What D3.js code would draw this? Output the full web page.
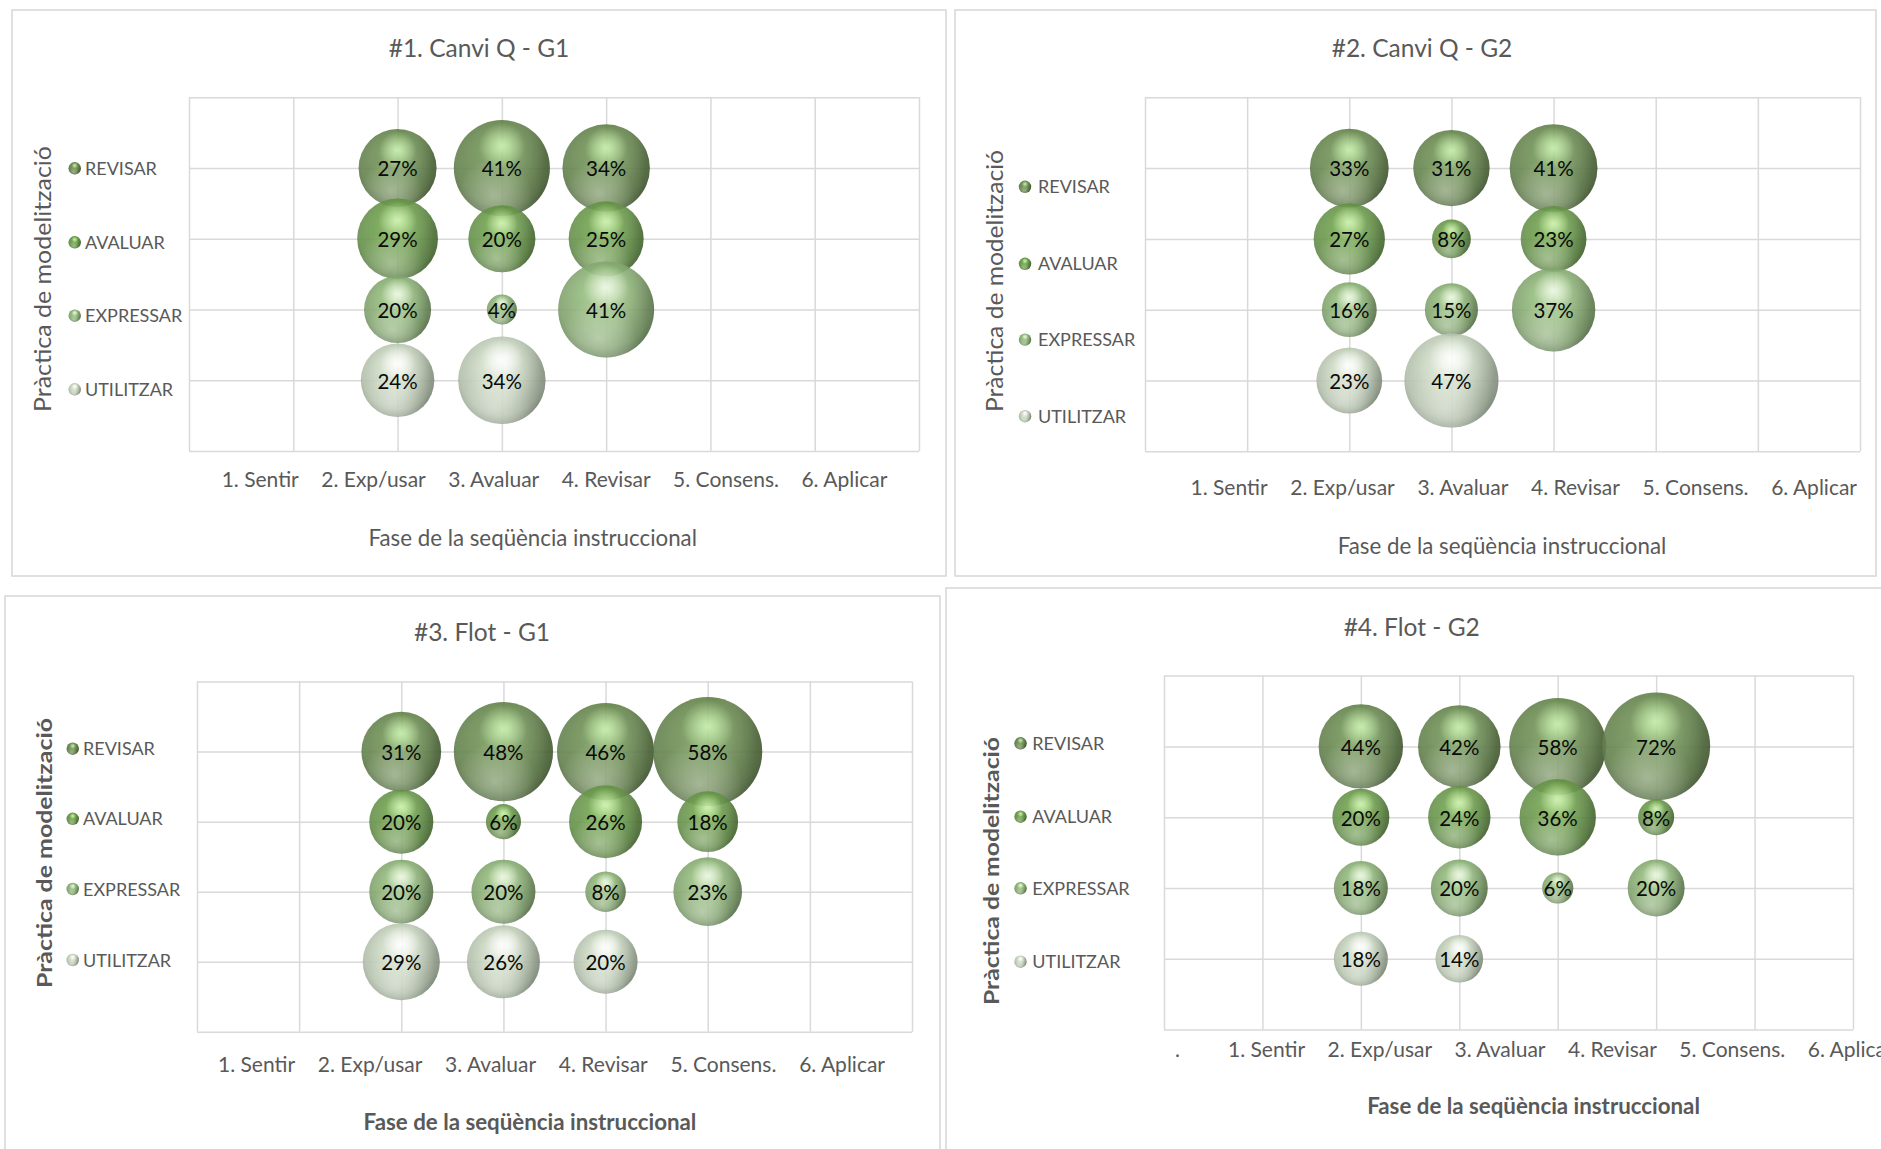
<!DOCTYPE html>
<html>
<head>
<meta charset="utf-8">
<script src="https://cdn.jsdelivr.net/npm/d3@7"></script>
<style>
  html, body { margin: 0; padding: 0; background: #ffffff; overflow: hidden; }
  svg { display: block; }
  text { font-family: Lato, "Open Sans", sans-serif; }
</style>
</head>
<body>
<svg id="chart" width="1881" height="1149"></svg>
<script>
// ---- data -------------------------------------------------------------
const phaseLabels = ["1. Sentir", "2. Exp/usar", "3. Avaluar", "4. Revisar", "5. Consens.", "6. Aplicar"];
const practices = ["REVISAR", "AVALUAR", "EXPRESSAR", "UTILITZAR"];
const practiceLevels = [4, 3, 2, 1];
const chartTitles = ["#1. Canvi Q - G1", "#2. Canvi Q - G2", "#3. Flot - G1", "#4. Flot - G2"];
const xAxisTitle = "Fase de la seqüència instruccional";
const yAxisTitle = "Pràctica de modelització";

// percentage of each practice (rows, in the order of `practices`)
// within each phase (columns, in the order of `phaseLabels`)
const canviQG1 = [
  [null, 27, 41, 34, null, null],
  [null, 29, 20, 25, null, null],
  [null, 20,  4, 41, null, null],
  [null, 24, 34, null, null, null]
];
const canviQG2 = [
  [null, 33, 31, 41, null, null],
  [null, 27,  8, 23, null, null],
  [null, 16, 15, 37, null, null],
  [null, 23, 47, null, null, null]
];
const flotG1 = [
  [null, 31, 48, 46, 58, null],
  [null, 20,  6, 26, 18, null],
  [null, 20, 20,  8, 23, null],
  [null, 29, 26, 20, null, null]
];
const flotG2 = [
  [null, 44, 42, 58, 72, null],
  [null, 20, 24, 36,  8, null],
  [null, 18, 20,  6, 20, null],
  [null, 18, 14, null, null, null]
];
const panelData = [canviQG1, canviQG2, flotG1, flotG2];

// ---- layout of the four chart boxes ----------------------------------
const layouts = [
  { frame: [12, 10, 934, 566], title: [479, 57], plot: { l: 189, r: 919, t: 97.3, b: 451 },
    legend: { mx: 74.7, tx: 85, ys: [168.3, 242.3, 315.7, 389.3] },
    yTitle: { x: 42, y: 279, len: 266, bold: false }, xLabels: { x0: 221.7, x1: 887.3, y: 486.7 },
    xTitle: { x: 532.7, y: 545.7, bold: false }, rMax: 48 },
  { frame: [955, 10, 921, 566], title: [1422, 57], plot: { l: 1145, r: 1860, t: 97.3, b: 451.3 },
    legend: { mx: 1025, tx: 1038, ys: [186.8, 263.8, 339.6, 416.2] },
    yTitle: { x: 994.5, y: 281, len: 262, bold: false }, xLabels: { x0: 1190.5, x1: 1857, y: 495 },
    xTitle: { x: 1502, y: 553.5, bold: false }, rMax: 47 },
  { frame: [5, 596, 935, 620], title: [482, 641], plot: { l: 197, r: 912, t: 681.6, b: 1031.7 },
    legend: { mx: 72.7, tx: 83, ys: [748.7, 818.8, 889, 960] },
    yTitle: { x: 43, y: 853, len: 270, bold: true }, xLabels: { x0: 218, x1: 885, y: 1072 },
    xTitle: { x: 530, y: 1130, bold: true }, rMax: 54.5 },
  { frame: [946, 588, 1000, 620], title: [1411.7, 635.5], plot: { l: 1164, r: 1853, t: 675.6, b: 1029.6 },
    legend: { mx: 1020.5, tx: 1032.3, ys: [743.3, 816.7, 888.3, 961.7] },
    yTitle: { x: 990, y: 871, len: 268, bold: true }, xLabels: { x0: 1228, x1: 1893.6, y: 1057, lead: { text: ".", x: 1175 } },
    xTitle: { x: 1533.6, y: 1114, bold: true }, rMax: 54 }
];

// sphere shading per practice
const shades = [
  { hi: "#c6eeab", light: "#8db572", base: "#6b8e50", dark: "#58773f", edge: "#465f36" },
  { hi: "#cff3b0", light: "#8abf63", base: "#6b9e48", dark: "#5a873d", edge: "#4b6f34" },
  { hi: "#eef9e4", light: "#b4d59f", base: "#90b979", dark: "#779b62", edge: "#627f54" },
  { hi: "#ffffff", light: "#eaf1e5", base: "#cddac4", dark: "#acbaa3", edge: "#8e9b88" }
];

const textGray = "#595959";
const gridGray = "#d9d9d9";

const svg = d3.select("#chart");
const defs = svg.append("defs");

// gradients that give every bubble its glossy sphere look
shades.forEach((s, i) => {
  const body = defs.append("radialGradient").attr("id", "body-" + i)
    .attr("cx", 0.5).attr("cy", 0.45).attr("r", 0.56).attr("fx", 0.5).attr("fy", 0.28);
  [[0, s.light], [0.45, s.base], [0.85, s.dark], [1, s.edge]].forEach(([o, c]) =>
    body.append("stop").attr("offset", o).attr("stop-color", c));
  const shine = defs.append("radialGradient").attr("id", "shine-" + i)
    .attr("cx", 0.5).attr("cy", 0.27).attr("r", 0.24);
  shine.append("stop").attr("offset", 0).attr("stop-color", s.hi).attr("stop-opacity", 0.95);
  shine.append("stop").attr("offset", 1).attr("stop-color", s.hi).attr("stop-opacity", 0);
});
const glow = defs.append("radialGradient").attr("id", "glow")
  .attr("cx", 0.42).attr("cy", 0.8).attr("r", 0.4);
glow.append("stop").attr("offset", 0).attr("stop-color", "#ffffff").attr("stop-opacity", 0.38);
glow.append("stop").attr("offset", 1).attr("stop-color", "#ffffff").attr("stop-opacity", 0);
const side = defs.append("linearGradient").attr("id", "side").attr("x1", 0).attr("x2", 1).attr("y1", 0).attr("y2", 0.15);
side.append("stop").attr("offset", 0).attr("stop-color", "#ffffff").attr("stop-opacity", 0.1);
side.append("stop").attr("offset", 0.55).attr("stop-color", "#ffffff").attr("stop-opacity", 0);
side.append("stop").attr("offset", 1).attr("stop-color", "#000000").attr("stop-opacity", 0.22);

function sphere(sel, i, r) {
  sel.append("circle").attr("r", r).attr("fill", `url(#body-${i})`);
  sel.append("circle").attr("r", r).attr("fill", "url(#glow)");
  sel.append("circle").attr("r", r).attr("fill", "url(#side)");
  sel.append("circle").attr("r", r).attr("fill", `url(#shine-${i})`);
}

panelData.forEach((rows, k) => {
  const L = layouts[k];
  const g = svg.append("g").attr("class", "panel-" + (k + 1));

  g.append("rect")
    .attr("x", L.frame[0]).attr("y", L.frame[1]).attr("width", L.frame[2]).attr("height", L.frame[3])
    .attr("fill", "#ffffff").attr("stroke", gridGray).attr("stroke-width", 1.6);

  g.append("text").attr("x", L.title[0]).attr("y", L.title[1]).attr("text-anchor", "middle")
    .attr("font-size", 24.5).attr("fill", textGray).text(chartTitles[k]);

  const x = d3.scaleLinear().domain([0, 7]).range([L.plot.l, L.plot.r]);
  const y = d3.scaleLinear().domain([0, 5]).range([L.plot.b, L.plot.t]);

  // grid: one line per unit on both axes
  g.append("g").attr("transform", `translate(0,${L.plot.b})`)
    .call(d3.axisBottom(x).tickValues(d3.range(0, 8)).tickSize(-(L.plot.b - L.plot.t)).tickFormat(""))
    .call(a => a.select(".domain").remove())
    .call(a => a.selectAll("line").attr("stroke", gridGray).attr("stroke-width", 1.5));
  g.append("g").attr("transform", `translate(${L.plot.l},0)`)
    .call(d3.axisLeft(y).tickValues(d3.range(0, 6)).tickSize(-(L.plot.r - L.plot.l)).tickFormat(""))
    .call(a => a.select(".domain").remove())
    .call(a => a.selectAll("line").attr("stroke", gridGray).attr("stroke-width", 1.5));

  // bubbles
  const points = [];
  rows.forEach((row, r) => row.forEach((v, c) => {
    if (v != null) points.push({ series: r, phase: c + 1, value: v });
  }));
  const size = d3.scaleSqrt().domain([0, d3.max(points, d => d.value)]).range([0, L.rMax]);

  const bubbles = g.append("g").selectAll("g").data(points).join("g")
    .attr("transform", d => `translate(${x(d.phase)},${y(practiceLevels[d.series])})`)
    .attr("opacity", 0.9);
  bubbles.each(function (d) { sphere(d3.select(this), d.series, size(d.value)); });

  g.append("g").selectAll("text").data(points).join("text")
    .attr("x", d => x(d.phase)).attr("y", d => y(practiceLevels[d.series]) + 8.3)
    .attr("text-anchor", "middle").attr("font-size", 20.5).attr("fill", "#0a0a0a")
    .text(d => d.value + "%");

  // legend
  const leg = g.append("g").selectAll("g").data(practices).join("g")
    .attr("transform", (d, i) => `translate(0,${L.legend.ys[i]})`);
  leg.each(function (d, i) {
    const m = d3.select(this).append("g").attr("transform", `translate(${L.legend.mx},0)`);
    sphere(m, i, 6.2);
  });
  leg.append("text").attr("x", L.legend.tx).attr("y", 6.5)
    .attr("font-size", 18).attr("fill", textGray).text(d => d);

  // axis titles
  g.append("text")
    .attr("transform", `translate(${L.yTitle.x},${L.yTitle.y}) rotate(-90)`)
    .attr("text-anchor", "middle").attr("dominant-baseline", "central")
    .attr("font-family", "'Noto Sans', 'Open Sans', sans-serif")
    .attr("font-size", L.yTitle.bold ? 21 : 22.5)
    .attr("font-weight", L.yTitle.bold ? 700 : 400)
    .attr("fill", textGray)
    .attr("textLength", L.yTitle.len).attr("lengthAdjust", "spacingAndGlyphs")
    .text(yAxisTitle);

  g.append("text").attr("x", L.xTitle.x).attr("y", L.xTitle.y).attr("text-anchor", "middle")
    .attr("font-size", 22.3).attr("font-weight", L.xTitle.bold ? 700 : 400)
    .attr("fill", textGray).text(xAxisTitle);

  // phase labels written as one spaced row under the plot
  const row = g.append("g");
  if (L.xLabels.lead) {
    row.append("text").attr("x", L.xLabels.lead.x).attr("y", L.xLabels.y)
      .attr("font-size", 21).attr("fill", textGray).text(L.xLabels.lead.text);
  }
  const labs = row.selectAll("text.phase").data(phaseLabels).join("text").attr("class", "phase")
    .attr("y", L.xLabels.y).attr("font-size", 21).attr("fill", textGray).text(d => d);
  const widths = labs.nodes().map(n => n.getComputedTextLength());
  const gap = (L.xLabels.x1 - L.xLabels.x0 - d3.sum(widths)) / (phaseLabels.length - 1);
  const starts = widths.map((w, i) => L.xLabels.x0 + d3.sum(widths.slice(0, i)) + gap * i);
  labs.attr("x", (d, i) => starts[i]);
});
</script>
</body>
</html>
